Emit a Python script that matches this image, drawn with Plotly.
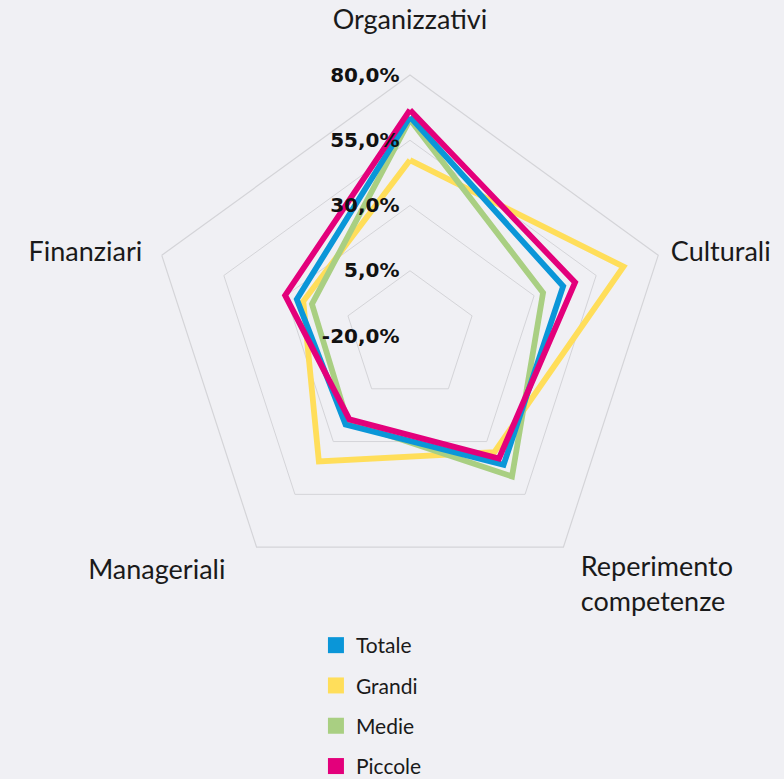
import plotly.graph_objects as go

NB = "\u00a0"
categories = ["Organizzativi<br> ", NB + "Culturali", NB * 2 + "Reperimento<br>" + NB * 2 + "competenze",
              "Manageriali" + NB * 4, "Finanziari" + NB * 2]
series_names = ["Totale", "Grandi", "Medie", "Piccole"]
totale = [64.0, 41.7, 41.0, 22.0, 25.6]
grandi = [47.4, 66.0, 35.0, 39.4, 23.0]
medie = [63.0, 33.6, 46.5, 20.6, 19.5]
piccole = [66.6, 46.5, 38.0, 19.5, 30.3]
tick_vals = [-20, 5, 30, 55, 80]
tick_text = [f"{v:.1f}%".replace(".", ",") + NB for v in tick_vals]

colors = ["#0a96d8", "#ffde5a", "#a9cf82", "#e3007b"]
values = [totale, grandi, medie, piccole]
bg = "#f0f0f4"

fig = go.Figure()
order = [1, 2, 0, 3]
for i in order:
    v = values[i]
    fig.add_trace(go.Scatterpolar(
        r=v + [v[0]], theta=categories + [categories[0]],
        mode="lines", line=dict(color=colors[i], width=5.8),
        name=series_names[i], showlegend=False, hoverinfo="skip"))
for i, name in enumerate(series_names):
    fig.add_trace(go.Scatterpolar(
        r=[None], theta=[categories[0]], mode="markers",
        marker=dict(symbol="square", size=22, color=colors[i]),
        name=name, showlegend=True, legendgroup=name))

fig.update_layout(
    width=784, height=779,
    paper_bgcolor=bg, plot_bgcolor=bg,
    margin=dict(l=0, r=0, t=0, b=0, autoexpand=False),
    font=dict(family="Lato, sans-serif", color="#1a1a1a"),
    polar=dict(
        bgcolor=bg,
        domain=dict(x=[149/784, 671/784], y=[1-597/779, 1-75/779]),
        gridshape="linear",
        radialaxis=dict(
            range=[-20, 80], tickvals=tick_vals, ticktext=tick_text,
            angle=90, tickangle=90, side="counterclockwise",
            showline=False, ticks="", gridcolor="#d4d4d8", gridwidth=1.2,
            tickfont=dict(size=20, family="DejaVu Sans, sans-serif", color="#111111", weight="bold"),
        ),
        angularaxis=dict(
            direction="clockwise", rotation=90, showgrid=False,
            showline=True, linecolor="#d4d4d8", linewidth=1.2,
            ticks="", tickfont=dict(size=27, color="#1a1a1a"),
        ),
    ),
    legend=dict(
        x=0.403, y=1-625/779, xanchor="left", yanchor="top",
        font=dict(size=21), tracegroupgap=10, bgcolor="rgba(0,0,0,0)",
    ),
)
fig.write_html("out.html", config={"displayModeBar": False},
               post_script="document.body.style.margin='0';document.body.style.background='#f0f0f4';")
